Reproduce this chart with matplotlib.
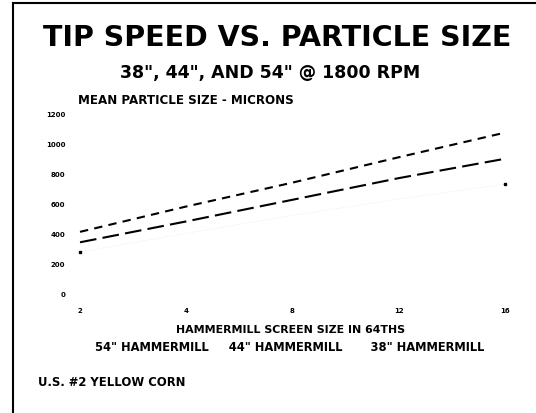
import matplotlib
matplotlib.use('Agg')
import matplotlib.pyplot as plt

plt.rcParams['font.family'] = ['DejaVu Sans']
plt.rcParams['font.weight'] = 'bold'

# screen sizes (64ths) and mean particle size in microns
screen = ['2', '4', '8', '12', '16']
mill_54 = [410, 580, 740, 910, 1075]
mill_44 = [340, 480, 625, 770, 900]
mill_38 = [275, 400, 520, 630, 730]
yticks = [0, 200, 400, 600, 800, 1000, 1200]

fig = plt.figure(figsize=(5.36, 4.14), dpi=100)

# frame lines (top and left only)
fig.add_artist(plt.Line2D([13/536, 1], [1 - 4/414, 1 - 4/414], color='black', lw=1.5))
fig.add_artist(plt.Line2D([13/536, 13/536], [0, 1 - 4/414], color='black', lw=1.5))

fig.text(277/536, 1 - 38/414, 'TIP SPEED VS. PARTICLE SIZE', ha='center', va='center',
         fontsize=20.5, fontweight='bold')
fig.text(270/536, 1 - 73/414, '38", 44", AND 54" @ 1800 RPM', ha='center', va='center',
         fontsize=12.5, fontweight='bold')

ax = fig.add_axes([69.4/536, (414 - 298.5)/414, 446.25/536, 188/414])
x = range(len(screen))
ax.plot(x, mill_54, color='black', lw=1.5, linestyle=(0, (4, 3)))
ax.plot(x, mill_44, color='black', lw=1.5, linestyle=(0, (8, 3)))
ax.plot(x, mill_38, color='0.9', lw=0.5, linestyle=':', marker='s', markersize=1.5,
        markevery=[0, len(screen) - 1], markerfacecolor='black', markeredgecolor='black')
ax.set_xlim(-0.1, 4.1)
ax.set_ylim(-30, 1230)
ax.set_xticks(list(x))
ax.set_xticklabels(screen)
ax.set_yticks(yticks)
ax.tick_params(length=0, labelsize=5, pad=3)
ax.tick_params(axis='x', pad=7)
for s in ax.spines.values():
    s.set_visible(False)

fig.text(78/536, 1 - 101/414, 'MEAN PARTICLE SIZE - MICRONS', ha='left', va='center', fontsize=8.6)
fig.text(290/536, 1 - 330/414, 'HAMMERMILL SCREEN SIZE IN 64THS', ha='center', va='center', fontsize=7.9)
fig.text(290/536, 1 - 348/414, '54" HAMMERMILL     44" HAMMERMILL       38" HAMMERMILL',
         ha='center', va='center', fontsize=8.3)
fig.text(38/536, 1 - 383/414, 'U.S. #2 YELLOW CORN', ha='left', va='center', fontsize=8.4)

fig.savefig('out.png', dpi=100)
